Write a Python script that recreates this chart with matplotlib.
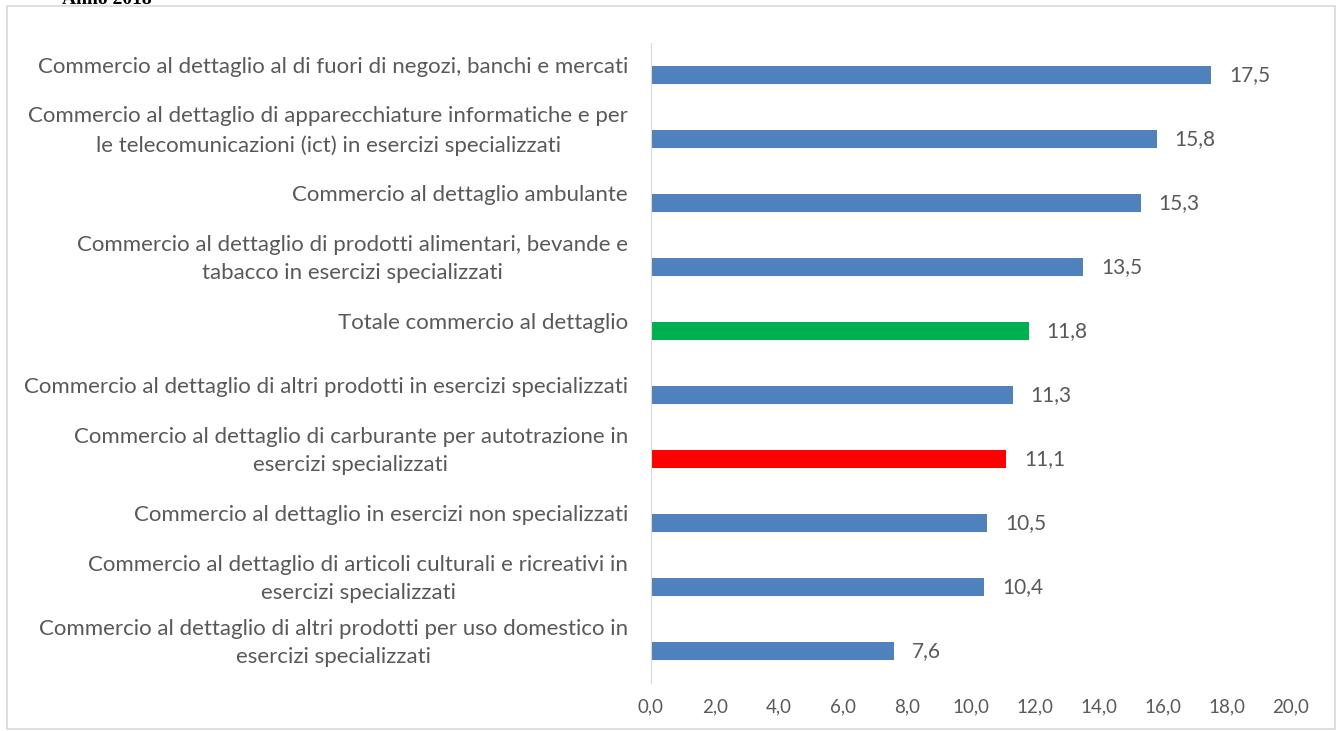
import matplotlib.pyplot as plt
from matplotlib.patches import Rectangle

# retail categories, top to bottom
categories = [
    "Commercio al dettaglio al di fuori di negozi, banchi e mercati",
    "Commercio al dettaglio di apparecchiature informatiche e per\nle telecomunicazioni (ict) in esercizi specializzati",
    "Commercio al dettaglio ambulante",
    "Commercio al dettaglio di prodotti alimentari, bevande e\ntabacco in esercizi specializzati",
    "Totale commercio al dettaglio",
    "Commercio al dettaglio di altri prodotti in esercizi specializzati",
    "Commercio al dettaglio di carburante per autotrazione in\nesercizi specializzati",
    "Commercio al dettaglio in esercizi non specializzati",
    "Commercio al dettaglio di articoli culturali e ricreativi in\nesercizi specializzati",
    "Commercio al dettaglio di altri prodotti per uso domestico in\nesercizi specializzati",
]
values = [17.5, 15.8, 15.3, 13.5, 11.8, 11.3, 11.1, 10.5, 10.4, 7.6]
bar_colors = ["#4F81BD", "#4F81BD", "#4F81BD", "#4F81BD", "#00B050",
              "#4F81BD", "#FF0000", "#4F81BD", "#4F81BD", "#4F81BD"]
xticks = [0, 2, 4, 6, 8, 10, 12, 14, 16, 18, 20]

plt.rcParams['font.family'] = ['Lato', 'DejaVu Sans']
text_col = "#595959"

fig = plt.figure(figsize=(13.42, 7.31), dpi=100)
ax = fig.add_axes([651 / 1342, 0.0657, 640 / 1342, 0.8755])

pos = list(range(len(categories)))
ax.barh(pos, values, height=0.27, color=bar_colors)
ax.set_ylim(len(categories) - 0.5, -0.5)
ax.set_xlim(0, 20)

for p, v in zip(pos, values):
    ax.annotate(f"{v:.1f}".replace(".", ","), (v, p), xytext=(13, 0),
                textcoords="offset points", va="center", ha="left",
                fontsize=15, color=text_col)

# category labels, right-aligned left of the axis and a bit above each bar
ax.set_yticks([])
for p, lab in zip(pos, categories):
    ax.annotate(lab, (0, p), xytext=(-23, 8), textcoords="offset pixels",
                ha="right", va="center", multialignment="center",
                linespacing=1.55, fontsize=16, color=text_col,
                annotation_clip=False)

ax.set_xticks(xticks)
ax.set_xticklabels([f"{t:.1f}".replace(".", ",") for t in xticks], fontsize=13.5, color=text_col)
ax.tick_params(axis="x", length=0, pad=11)

for side in ["top", "right", "bottom"]:
    ax.spines[side].set_visible(False)
ax.spines["left"].set_color("#d9d9d9")

# outer chart frame
fig.patches.append(Rectangle((7 / 1342, 2 / 731), 1328 / 1342, 723 / 731,
                             transform=fig.transFigure, fill=False,
                             edgecolor="#d9d9d9", linewidth=1.2))

fig.text(62 / 1342, 1.0, "Anno 2018", fontsize=14, fontweight="bold",
         family="Liberation Serif", va="center", ha="left", color="black")

fig.savefig("out.png", dpi=100)
